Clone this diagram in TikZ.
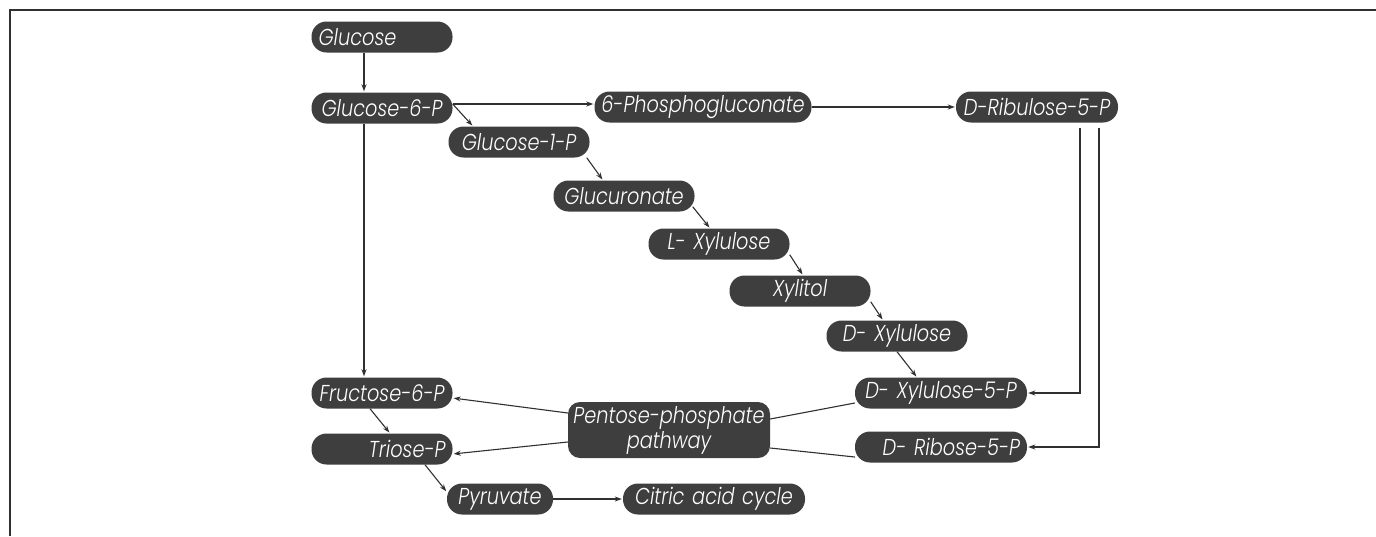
\documentclass[tikz,border=0pt]{standalone}
\usepackage{fontspec}
\setmainfont{Poppins}[ItalicFont={Poppins Light Italic}, FakeStretch=0.84]
\usetikzlibrary{arrows.meta}
\definecolor{boxgrey}{HTML}{3E3E3E}
\definecolor{linegrey}{HTML}{303030}
\exhyphenpenalty=10000
\hyphenpenalty=10000
\tikzset{
  met/.style={fill=boxgrey, text=white, rounded corners=15pt, minimum height=31pt,
    inner xsep=7pt, inner ysep=2pt, align=center, text width=127pt,
    font=\fontsize{23}{25}\selectfont\itshape},
  flow/.style={-{Stealth[length=7pt,width=5pt]}, linegrey, line width=1.1pt, shorten >=1pt},
  link/.style={linegrey, line width=1.1pt},
}
\begin{document}
\begin{tikzpicture}[x=1pt, y=-1pt]
    \useasboundingbox (0,0) rectangle (1376,536);
    % frame
    \draw[line width=1.5pt, linegrey] (10,536) -- (10,10) -- (1376,10);

    % Glucose branch
    \node[met, align=left] (glc) at (382,37) {Glucose};
    \node[met] (glc6p) at (382,108) {Glucose-6-P};
    \node[met, text width=207pt, inner xsep=5pt] (pgl) at (703,107) {6-Phosphogluconate};
    \node[met, text width=148pt] (ru5p) at (1037,107) {D-Ribulose-5-P};

    % Glucuronate staircase
    \node[met] (glc1p) at (519,142) {Glucose-1-P};
    \node[met] (gca) at (624,196) {Glucuronate};
    \node[met] (lxyl) at (719,244) {L- Xylulose};
    \node[met] (xol) at (800,291) {Xylitol};
    \node[met] (dxyl) at (897,336) {D- Xylulose};
    \node[met, text width=158pt] (xu5p) at (941,393) {D- Xylulose-5-P};
    \node[met, text width=158pt, align=right] (r5p) at (941,447) {D- Ribose-5-P};

    % Glycolysis side
    \node[met] (f6p) at (382,393) {Fructose-6-P};
    \node[met, align=right] (triose) at (382,449) {Triose-P};
    \node[met, text width=194pt, inner xsep=4pt, minimum height=56pt, rounded corners=12pt] (ppp) at (669,430) {Pentose-phosphate\\pathway};
    \node[met, text width=92pt] (pyr) at (500,499) {Pyruvate};
    \node[met, text width=168pt] (cac) at (714,499) {Citric acid cycle};

    % Arrows
    \draw[flow] ([xshift=-18pt]glc.south) -- ([xshift=-18pt]glc6p.north);
    \draw[flow] ([yshift=4pt]glc6p.east) -- ([yshift=4pt]glc6p.east -| pgl.west);
    \draw[flow] (pgl.east) -- (ru5p.west);
    \draw[flow] ([yshift=4pt]glc6p.east) -- ([xshift=-46pt]glc1p.north);
    \draw[flow] ([xshift=-3pt]glc1p.south east) -- ([xshift=-21pt]gca.north);
    \draw[flow] ([xshift=-2pt, yshift=5pt]gca.south east) -- ([xshift=-9pt]lxyl.north);
    \draw[flow] ([yshift=5pt]lxyl.south east) -- ([xshift=3pt]xol.north);
    \draw[flow] ([yshift=5pt]xol.south east) -- ([xshift=-14pt]dxyl.north);
    \draw[flow] (dxyl.south) -- ([xshift=-24pt]xu5p.north);
    \draw[flow] ([xshift=-18pt]glc6p.south) -- ([xshift=-18pt]f6p.north);
    \draw[flow] ([xshift=43pt, yshift=-5pt]ru5p.south) |- (xu5p.east);
    \draw[flow] ([xshift=62pt, yshift=-5pt]ru5p.south) |- (r5p.east);
    \draw[flow] ([xshift=-12pt]f6p.south) -- ([xshift=8pt]triose.north);
    \draw[flow] ([xshift=43pt]triose.south) -- ([yshift=7pt]pyr.west);
    \draw[flow] ([yshift=17pt]ppp.west) -- ([yshift=-5pt]f6p.east);
    \draw[flow] ([yshift=-12pt]ppp.west) -- ([yshift=-5pt]triose.east);
    \draw[link] ([yshift=11pt]ppp.east) -- ([yshift=-10pt]xu5p.west);
    \draw[link] ([yshift=-18pt]ppp.east) -- ([yshift=-10pt]r5p.west);
    \draw[flow] (pyr.east) -- (cac.west);
\end{tikzpicture}
\end{document}
